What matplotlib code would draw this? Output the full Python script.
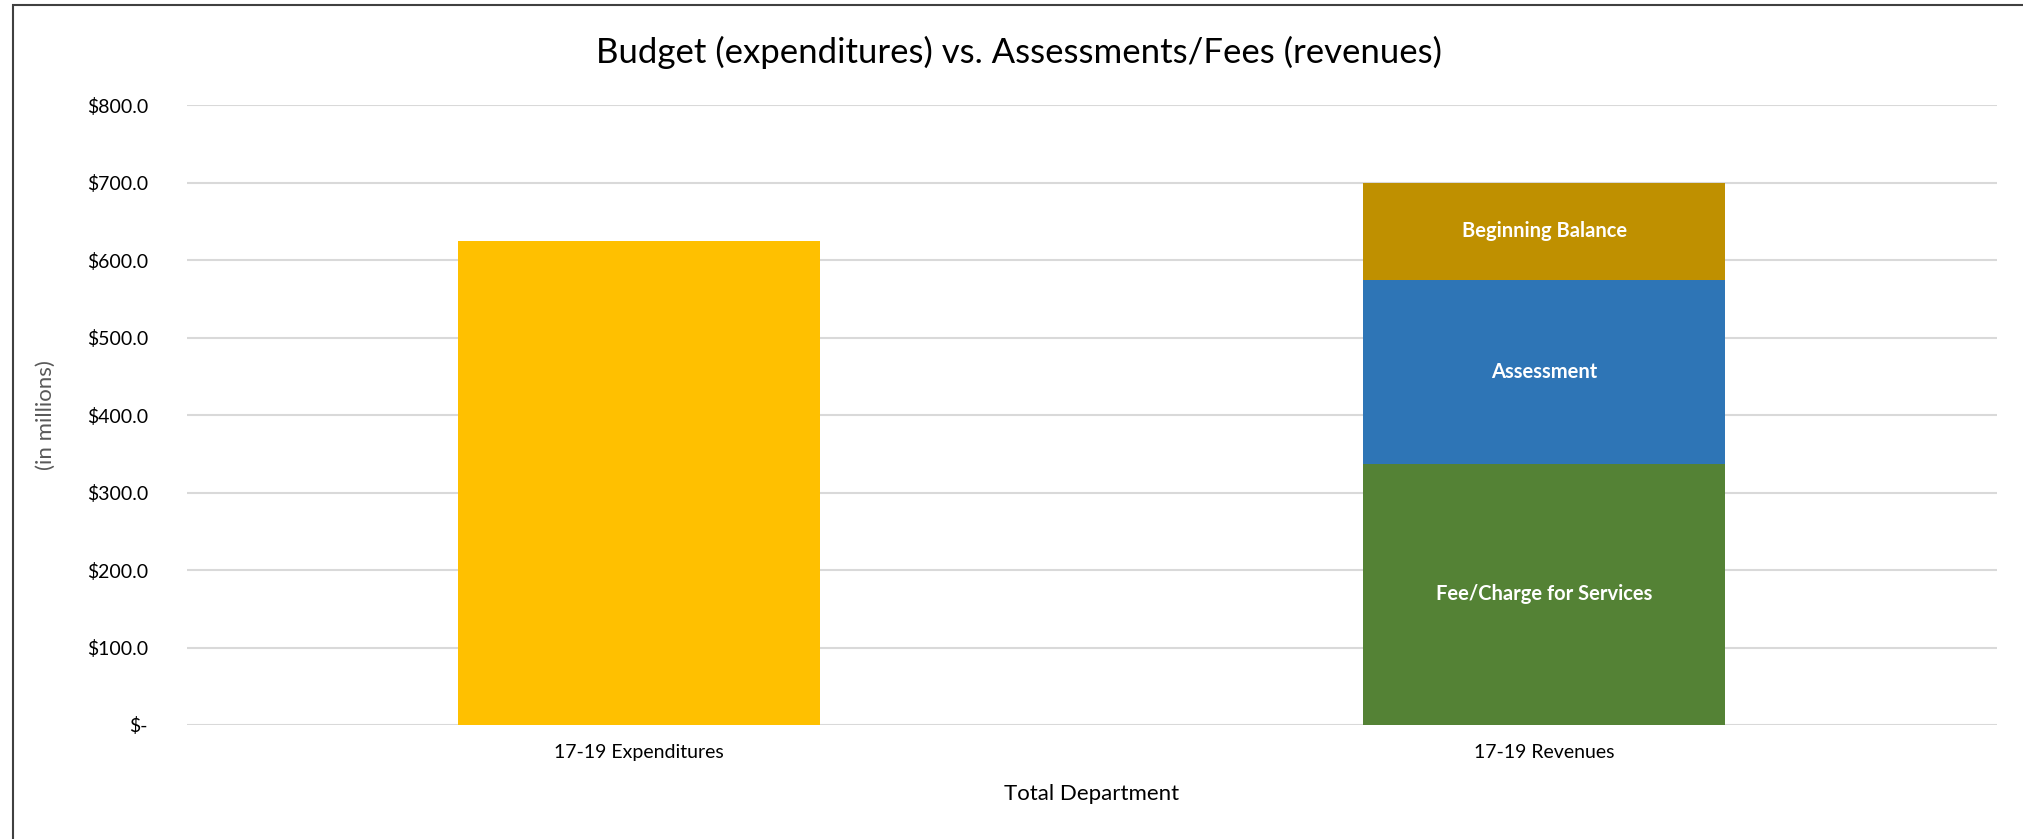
import matplotlib
matplotlib.use("Agg")
import matplotlib.pyplot as plt
from matplotlib.patches import Rectangle
from matplotlib.ticker import FuncFormatter

# data (in millions)
categories = ["17-19 Expenditures", "17-19 Revenues"]
expenditures = [625.0, 0.0]
fee_charge = [0.0, 337.0]
assessment = [0.0, 238.0]
beginning_balance = [0.0, 125.0]
segment_names = ["Fee/Charge for Services", "Assessment", "Beginning Balance"]
y_ticks = [0, 100, 200, 300, 400, 500, 600, 700, 800]

plt.rcParams["font.family"] = ["Lato", "DejaVu Sans"]

fig = plt.figure(figsize=(20.23, 8.39), dpi=100)
ax = fig.add_axes([0.0924, 0.1359, 0.8946, 0.7386])

x = list(range(len(categories)))
w = 0.4

ax.bar(x, expenditures, width=w, color="#FFC000", zorder=3)
b1 = ax.bar(x, fee_charge, width=w, color="#548235", zorder=3)
bottom2 = fee_charge
b2 = ax.bar(x, assessment, width=w, bottom=bottom2, color="#2E75B6", zorder=3)
bottom3 = [a + b for a, b in zip(fee_charge, assessment)]
b3 = ax.bar(x, beginning_balance, width=w, bottom=bottom3, color="#BF9000", zorder=3)

# segment labels on the revenue bar
for bars, name in zip([b1, b2, b3], segment_names):
    r = bars[1]
    ax.text(r.get_x() + r.get_width() / 2, r.get_y() + r.get_height() / 2, name,
            ha="center", va="center", color="white", fontsize=14.5, fontweight="bold",
            zorder=4)

ax.set_xlim(-0.5, 1.5)
ax.set_ylim(0, 800)
ax.set_yticks(y_ticks)
ax.yaxis.set_major_formatter(FuncFormatter(lambda v, p: "$-" if v == 0 else "${:,.1f}".format(v)))
ax.set_xticks(x)
ax.set_xticklabels(categories)

ax.grid(axis="y", color="#d9d9d9", linewidth=1.5, zorder=0)
for s in ax.spines.values():
    s.set_visible(False)
ax.tick_params(axis="both", length=0, labelsize=14, colors="#000000")
ax.tick_params(axis="y", pad=28)
ax.tick_params(axis="x", pad=14)

ax.set_xlabel("Total Department", fontsize=16, labelpad=16)
ax.set_ylabel("(in millions)", fontsize=16, color="#595959", labelpad=22)
# title is centred on the whole chart, not the plot area
fig.text(1019 / 2023, 1 - 52 / 839, "Budget (expenditures) vs. Assessments/Fees (revenues)",
         ha="center", va="center", fontsize=25)

# chart frame
fig.patches.append(Rectangle((13 / 2023, -0.1), 1.2, 1.1 - 5 / 839, transform=fig.transFigure,
                             fill=False, edgecolor="#404040", linewidth=1.5))

fig.savefig("out.png", dpi=100)
